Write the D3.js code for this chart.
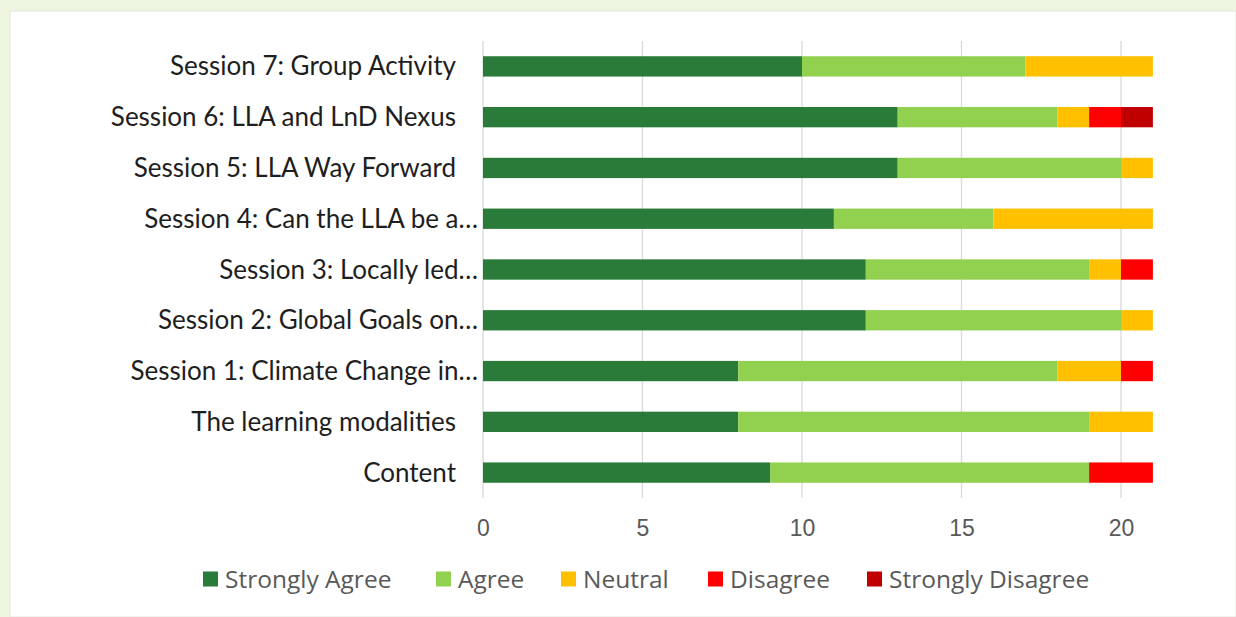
<!DOCTYPE html>
<html>
<head>
<meta charset="UTF-8">
<script src="https://d3js.org/d3.v7.min.js"></script>
<style>
  body { margin: 0; background: #eef6e2; }
</style>
</head>
<body>
<script>
// rows, top to bottom
const categories = [
  "Session 7: Group Activity",
  "Session 6: LLA and LnD Nexus",
  "Session 5: LLA Way Forward",
  "Session 4: Can the LLA be a…",
  "Session 3: Locally led…",
  "Session 2: Global Goals on…",
  "Session 1: Climate Change in…",
  "The learning modalities",
  "Content"
];
const seriesNames = ["Strongly Agree", "Agree", "Neutral", "Disagree", "Strongly Disagree"];
const stronglyAgree    = [10, 13, 13, 11, 12, 12, 8, 8, 9];
const agree            = [7, 5, 7, 5, 7, 8, 10, 11, 10];
const neutral          = [4, 1, 1, 5, 1, 1, 2, 2, 0];
const disagree         = [0, 1, 0, 0, 1, 0, 1, 0, 2];
const stronglyDisagree = [0, 1, 0, 0, 0, 0, 0, 0, 0];
const xTicks = [0, 5, 10, 15, 20];
const colors = ["#2a7b3a", "#92d050", "#ffc000", "#ff0000", "#c00000"];

const W = 1236, H = 617;
const svg = d3.select("body").append("svg")
  .attr("width", W).attr("height", H)
  .style("display", "block");

// white panel
svg.append("rect")
  .attr("x", 10).attr("y", 11)
  .attr("width", W - 10).attr("height", H - 11)
  .attr("fill", "#ffffff")
  .attr("stroke", "#e3e6df").attr("stroke-width", 1);

const rows = categories.map((c, i) => ({
  cat: c,
  "Strongly Agree": stronglyAgree[i],
  "Agree": agree[i],
  "Neutral": neutral[i],
  "Disagree": disagree[i],
  "Strongly Disagree": stronglyDisagree[i]
}));

const x = d3.scaleLinear().domain([0, 20]).range([483, 1121]);
const y = d3.scaleBand().domain(categories).range([41, 498]).paddingInner(0.6).paddingOuter(0.3);

// gridlines
svg.append("g").selectAll("line")
  .data(xTicks).join("line")
  .attr("x1", d => x(d)).attr("x2", d => x(d))
  .attr("y1", 41).attr("y2", 498)
  .attr("stroke", "#d9d9d9").attr("stroke-width", 1.3);

// stacked bars
const stack = d3.stack().keys(seriesNames)(rows);
svg.append("g").selectAll("g")
  .data(stack).join("g")
  .attr("fill", (d, i) => colors[i])
  .selectAll("rect")
  .data(d => d).join("rect")
  .attr("x", d => x(d[0]))
  .attr("width", d => x(d[1]) - x(d[0]))
  .attr("y", d => y(d.data.cat))
  .attr("height", y.bandwidth());

// category labels
svg.append("g").selectAll("text")
  .data(categories).join("text")
  .attr("x", d => d.endsWith("…") ? 478 : 456)
  .attr("y", d => y(d) + y.bandwidth() / 2)
  .attr("dy", "0.35em")
  .attr("text-anchor", "end")
  .attr("font-family", "Lato, 'Open Sans', sans-serif")
  .attr("font-size", 26)
  .attr("fill", "#1e1e1e")
  .text(d => d);

// x axis tick labels
const xAxis = svg.append("g")
  .attr("transform", "translate(0,498)")
  .call(d3.axisBottom(x).tickValues(xTicks).tickSize(0).tickPadding(22));
xAxis.select(".domain").remove();
xAxis.selectAll("text")
  .attr("font-family", "'Liberation Sans', Arial, sans-serif")
  .attr("font-size", 23)
  .attr("fill", "#595959");

// legend
const legendX = [203, 436, 561, 708, 867];
const lg = svg.append("g").selectAll("g")
  .data(seriesNames).join("g")
  .attr("transform", (d, i) => `translate(${legendX[i]},579)`);
lg.append("rect")
  .attr("x", 0).attr("y", -7.5).attr("width", 15).attr("height", 15)
  .attr("fill", (d, i) => colors[i]);
lg.append("text")
  .attr("x", 22).attr("dy", "0.35em")
  .attr("font-family", "'Open Sans', sans-serif")
  .attr("font-size", 24.5)
  .attr("fill", "#595959")
  .text(d => d);
</script>
</body>
</html>
